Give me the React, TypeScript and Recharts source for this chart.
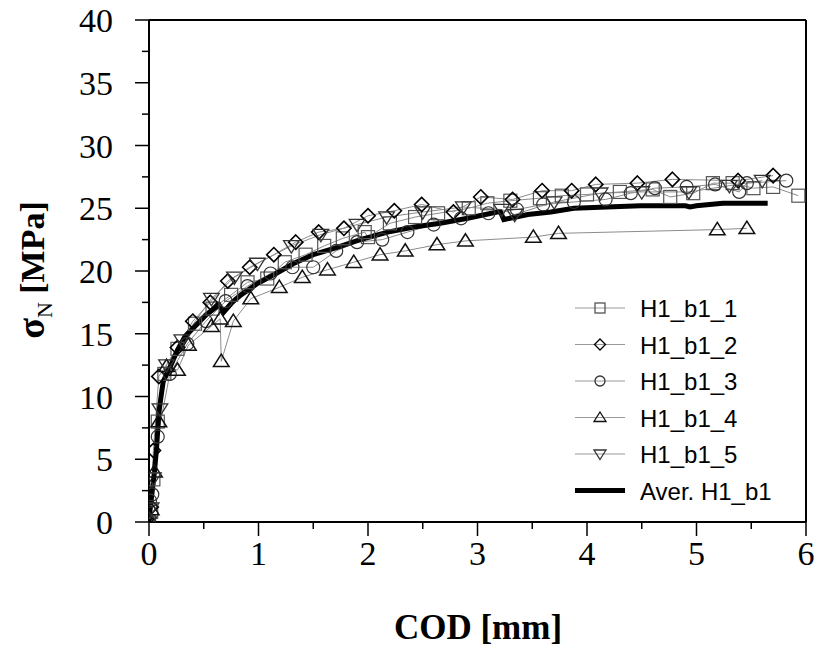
import React from "react";
import { LineChart, Line, XAxis, YAxis, ReferenceLine, Legend } from "recharts";

type Pt = [number, number];

// COD [mm], sigma_N [MPa]
const h1b1_1: Pt[] = [
  [0, 0], [0.02, 0.8], [0.04, 3.4], [0.08, 8.0], [0.14, 11.8], [0.26, 13.8], [0.42, 15.8], [0.58, 17.0],
  [0.75, 18.1], [0.9, 19.1], [1.08, 19.4], [1.24, 20.7], [1.43, 21.3], [1.6, 22.0], [1.77, 22.6], [1.97, 23.1],
  [2.0, 22.7], [2.2, 23.8], [2.43, 24.3], [2.64, 24.6], [2.92, 25.0], [3.09, 25.4], [3.3, 25.6], [3.57, 25.8],
  [3.77, 26.0], [4.0, 26.1], [4.3, 26.3], [4.6, 26.5], [4.76, 25.9], [4.97, 26.2], [5.15, 27.0], [5.33, 27.0],
  [5.52, 26.6], [5.7, 26.7], [5.93, 26.0],
];
const h1b1_2: Pt[] = [
  [0, 0], [0.02, 1.2], [0.04, 5.7], [0.09, 11.6], [0.26, 13.9], [0.4, 16.0], [0.56, 17.5], [0.72, 19.2],
  [0.92, 20.3], [1.14, 21.3], [1.34, 22.3], [1.55, 23.1], [1.78, 23.4], [2.0, 24.4], [2.24, 24.8], [2.49, 25.3],
  [2.78, 24.7], [3.03, 25.9], [3.32, 25.7], [3.59, 26.4], [3.86, 26.4], [4.08, 26.9], [4.46, 27.0], [4.78, 27.3],
  [5.38, 27.2], [5.7, 27.6],
];
const h1b1_3: Pt[] = [
  [0, 0], [0.01, 1.7], [0.03, 2.2], [0.08, 6.8], [0.19, 11.8], [0.35, 14.2], [0.52, 16.0], [0.7, 17.6],
  [0.9, 18.8], [1.11, 19.8], [1.31, 20.3], [1.5, 20.3], [1.71, 21.6], [1.9, 22.3], [2.13, 22.5], [2.36, 23.1],
  [2.6, 23.7], [2.85, 24.2], [3.1, 24.6], [3.36, 24.9], [3.6, 25.3], [3.88, 25.5], [4.17, 25.7], [4.4, 26.2],
  [4.62, 26.6], [4.91, 26.7], [5.17, 26.9], [5.39, 26.3], [5.46, 27.0], [5.82, 27.2],
];
const h1b1_4: Pt[] = [
  [0, 0], [0.02, 1.0], [0.05, 4.0], [0.09, 8.0], [0.16, 12.4], [0.26, 12.1], [0.36, 14.1], [0.57, 15.6],
  [0.65, 16.2], [0.66, 12.8], [0.77, 16.0], [0.93, 17.8], [1.19, 18.7], [1.4, 19.5], [1.63, 20.1], [1.87, 20.7],
  [2.11, 21.3], [2.34, 21.6], [2.63, 22.1], [2.89, 22.4], [3.51, 22.7], [3.74, 23.0], [5.19, 23.3], [5.46, 23.4],
];
const h1b1_5: Pt[] = [
  [0, 0], [0.02, 1.1], [0.04, 3.5], [0.1, 9.0], [0.16, 12.5], [0.3, 14.5], [0.57, 17.8], [0.78, 19.5],
  [0.99, 20.6], [1.3, 22.0], [1.57, 22.9], [1.9, 23.7], [2.17, 24.3], [2.5, 24.7], [2.87, 25.1], [3.22, 24.9],
  [3.34, 24.5], [3.7, 25.5], [4.12, 26.2], [4.5, 26.3], [4.93, 26.3], [5.3, 26.8], [5.6, 27.2],
];
const average: Pt[] = [
  [0, 0], [0.01, 1], [0.03, 2.5], [0.05, 4], [0.07, 6], [0.09, 8.7], [0.11, 10], [0.13, 11.2], [0.2, 12.5],
  [0.26, 13.7], [0.33, 14.8], [0.41, 15.5], [0.52, 16.5], [0.64, 17.3], [0.68, 16.7], [0.76, 17.5], [0.84, 18.1],
  [0.99, 19.0], [1.14, 19.7], [1.32, 20.6], [1.5, 21.3], [1.69, 21.8], [1.93, 22.5], [2.18, 23.1], [2.42, 23.5],
  [2.66, 23.8], [2.91, 24.2], [3.18, 24.7], [3.21, 24.7], [3.24, 24.1], [3.46, 24.5], [3.67, 24.7], [3.88, 25.0],
  [4.18, 25.1], [4.49, 25.2], [4.79, 25.2], [4.9, 25.2], [4.94, 25.1], [5.0, 25.2], [5.24, 25.4], [5.65, 25.4],
];

const xTicks = [0, 0.5, 1, 1.5, 2, 2.5, 3, 3.5, 4, 4.5, 5, 5.5, 6];
const yTicks = [0, 2.5, 5, 7.5, 10, 12.5, 15, 17.5, 20, 22.5, 25, 27.5, 30, 32.5, 35, 37.5, 40];

type Shape = "square" | "diamond" | "circle" | "up" | "down";

const series: { name: string; pts: Pt[]; shape: Shape; color: string; sw: number }[] = [
  { name: "H1_b1_1", pts: h1b1_1, shape: "square", color: "#555", sw: 1.2 },
  { name: "H1_b1_2", pts: h1b1_2, shape: "diamond", color: "#000", sw: 1.6 },
  { name: "H1_b1_3", pts: h1b1_3, shape: "circle", color: "#333", sw: 1.2 },
  { name: "H1_b1_4", pts: h1b1_4, shape: "up", color: "#111", sw: 1.5 },
  { name: "H1_b1_5", pts: h1b1_5, shape: "down", color: "#333", sw: 1.3 },
];

const toRows = (pts: Pt[]) => pts.map(([x, y]) => ({ x, y }));

const SERIF = "'Liberation Serif', 'Times New Roman', serif";
const SANS = "'Liberation Sans', Arial, sans-serif";

function Marker({ shape, cx, cy, s, color, sw }: { shape: Shape; cx: number; cy: number; s: number; color: string; sw: number }) {
  const common = { fill: "none", stroke: color, strokeWidth: sw };
  if (shape === "square") return <rect x={cx - s} y={cy - s} width={2 * s} height={2 * s} {...common} />;
  if (shape === "circle") return <circle cx={cx} cy={cy} r={s} {...common} />;
  if (shape === "diamond") {
    const d = s * 1.1;
    return <polygon points={`${cx},${cy - d} ${cx + d},${cy} ${cx},${cy + d} ${cx - d},${cy}`} {...common} />;
  }
  const k = shape === "up" ? 1 : -1;
  return (
    <polygon
      points={`${cx},${cy - k * s * 1.1} ${cx + s * 1.2},${cy + k * s * 0.8} ${cx - s * 1.2},${cy + k * s * 0.8}`}
      {...common}
    />
  );
}

const XTick = ({ x, y, payload }: any) => {
  const v = payload.value;
  const major = Number.isInteger(v);
  return (
    <g>
      <line x1={x} x2={x} y1={y} y2={y + (major ? 14 : 7)} stroke="#000" strokeWidth={1.5} />
      {major && (
        <text x={x} y={y + 43} textAnchor="middle" fontSize={34} fontFamily={SERIF} fill="#000">
          {v}
        </text>
      )}
    </g>
  );
};

const YTick = ({ x, y, payload }: any) => {
  const v = payload.value;
  const major = v % 5 === 0;
  return (
    <g>
      <line x1={x - (major ? 14 : 7)} x2={x} y1={y} y2={y} stroke="#000" strokeWidth={1.5} />
      {major && (
        <text x={x - 36} y={y + 12} textAnchor="end" fontSize={34} fontFamily={SERIF} fill="#000">
          {v}
        </text>
      )}
    </g>
  );
};

const renderLegend = () => (
  <svg width={240} height={220}>
    {series.map((s, i) => {
      const cy = 18 + i * 36.5;
      return (
        <g key={s.name}>
          <line x1={5} x2={55} y1={cy} y2={cy} stroke="#999" strokeWidth={1} />
          <Marker shape={s.shape} cx={30} cy={cy} s={5} color={s.color} sw={1.3} />
          <text x={70} y={cy + 9} fontSize={24} fontFamily={SANS} fill="#000">{s.name}</text>
        </g>
      );
    })}
    <line x1={5} x2={55} y1={18 + 5 * 36.5} y2={18 + 5 * 36.5} stroke="#000" strokeWidth={5} />
    <text x={70} y={18 + 5 * 36.5 + 9} fontSize={24} fontFamily={SANS} fill="#000">Aver. H1_b1</text>
  </svg>
);

export default function App() {
  return (
    <div style={{ position: "absolute", left: 0, top: 0, width: 819, height: 647 }}>
      <LineChart width={819} height={647} margin={{ top: 20, right: 13, bottom: 0, left: 0 }}>
        <XAxis
          type="number"
          dataKey="x"
          domain={[0, 6]}
          ticks={xTicks}
          interval={0}
          height={125}
          tickSize={0}
          tickMargin={0}
          tick={XTick}
          axisLine={{ stroke: "#000", strokeWidth: 2 }}
          allowDataOverflow
          label={{
            content: () => (
              <text x={478} y={639} textAnchor="middle" fontSize={35} fontWeight="bold" fontFamily={SERIF} fill="#000">
                COD [mm]
              </text>
            ),
          }}
        />
        <YAxis
          type="number"
          domain={[0, 40]}
          ticks={yTicks}
          interval={0}
          width={149}
          tickSize={0}
          tickMargin={0}
          tick={YTick}
          axisLine={{ stroke: "#000", strokeWidth: 2 }}
          allowDataOverflow
          label={{
            content: () => (
              <text
                x={44}
                y={270}
                transform="rotate(-90, 44, 270)"
                textAnchor="middle"
                fontSize={34}
                fontWeight="bold"
                fontFamily={SERIF}
                fill="#000"
              >
                <tspan fontSize={38}>σ</tspan>
                <tspan fontSize={22} fontWeight="normal" dy={8}>N</tspan>
                <tspan dy={-8}> [MPa]</tspan>
              </text>
            ),
          }}
        />
        <ReferenceLine y={40} stroke="#000" strokeWidth={2} />
        <ReferenceLine x={6} stroke="#000" strokeWidth={2} />
        {series.map((s) => (
          <Line
            key={s.name}
            data={toRows(s.pts)}
            dataKey="y"
            name={s.name}
            type="linear"
            stroke="#8c8c8c"
            strokeWidth={1}
            isAnimationActive={false}
            dot={(p: any) => (
              <Marker key={`${s.name}-${p.index}`} shape={s.shape} cx={p.cx} cy={p.cy} s={6.5} color={s.color} sw={s.sw} />
            )}
            activeDot={false}
          />
        ))}
        <Line
          data={toRows(average)}
          dataKey="y"
          name="Aver. H1_b1"
          type="linear"
          stroke="#000"
          strokeWidth={5}
          dot={false}
          activeDot={false}
          isAnimationActive={false}
        />
        <Legend
          layout="horizontal"
          verticalAlign="middle"
          align="center"
          content={renderLegend}
          wrapperStyle={{ position: "absolute", left: 570, top: 290, width: 240, height: 220 }}
        />
      </LineChart>
    </div>
  );
}
